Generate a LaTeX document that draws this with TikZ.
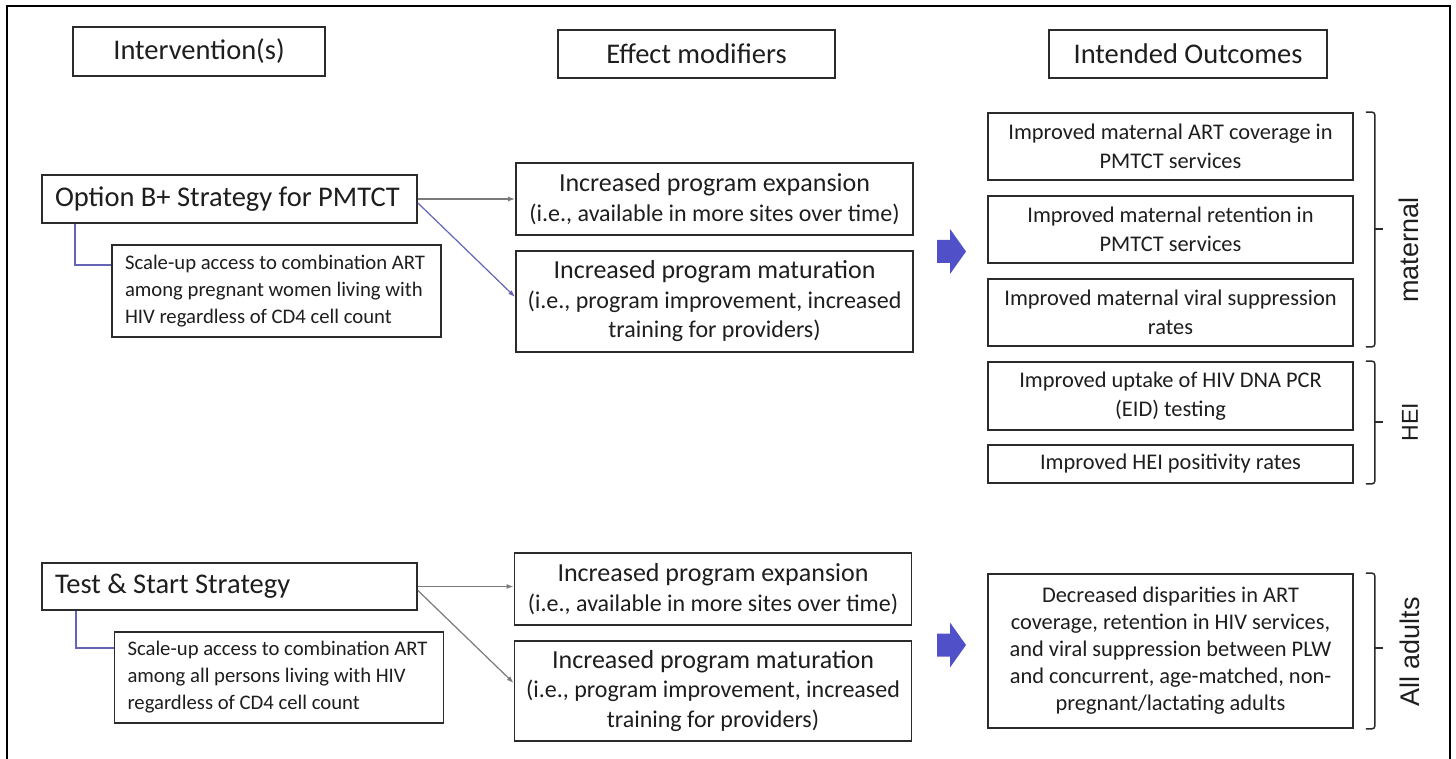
\documentclass[tikz,border=0pt]{standalone}
\usepackage{fontspec}
\setmainfont{Carlito}
\newfontfamily\arialf{Liberation Sans}
\usetikzlibrary{arrows.meta}
\definecolor{boxline}{HTML}{2B2B2B}
\definecolor{txt}{HTML}{1E1E1E}
\definecolor{linkgray}{HTML}{7A7A7A}
\definecolor{linkblue}{HTML}{6464B4}
\definecolor{arrowblue}{RGB}{80,80,200}
\newcommand\effmain{\fontsize{26}{29.5}\selectfont}
\begin{document}
\begin{tikzpicture}[x=1pt,y=-1pt,
  box/.style={draw=boxline, line width=1.8pt, fill=white, inner sep=0pt, text=txt, align=center},
  headbox/.style={box, font=\fontsize{28.5}{34}\selectfont},
  stratbox/.style={box, align=flush left, inner xsep=13pt, text width=349pt, minimum height=48pt, font=\fontsize{28.5}{34}\selectfont},
  scalebox/.style={box, align=flush left, inner xsep=13pt, text width=303pt, font=\fontsize{20.7}{27}\selectfont},
  effbox/.style={box, minimum width=397pt, font=\fontsize{24}{29.5}\selectfont},
  outbox/.style={box, minimum width=365pt, font=\fontsize{22.4}{29.5}\selectfont},
  garrow/.style={draw=linkgray, line width=1.2pt, -{Latex[length=7pt,width=5pt]}},
  barrow/.style={draw=linkblue, line width=1.2pt, -{Latex[length=7pt,width=5pt]}},
  elbow/.style={draw=linkblue, line width=1.3pt},
  brk/.style={draw=boxline, line width=1.5pt, rounded corners=3pt},
  side/.style={text=txt, font=\arialf\fontsize{27}{30}\selectfont, inner sep=0pt}
]
\useasboundingbox (0,0) rectangle (1456,759);
\draw[line width=1.5pt, draw=black] (7,759) -- (7,6) -- (1450,6) -- (1450,759);

% headers
\node[headbox, minimum width=252pt, minimum height=49pt] (hint) at (199,51.5) {Intervention(s)};
\node[headbox, minimum width=277pt, minimum height=48pt] (heff) at (696.5,54) {Effect modifiers};
\node[headbox, minimum width=278pt, minimum height=48pt] (hout) at (1188,54) {Intended Outcomes};

% upper strategy
\node[stratbox] (optb) at (229.5,199) {\mbox{Option B+ Strategy for PMTCT}};
\node[scalebox, minimum height=92pt] (scale1) at (276.5,291)
  {\mbox{Scale-up access to combination ART}\\\mbox{among pregnant women living with}\\\mbox{HIV regardless of CD4 cell count}};
\node[effbox, minimum height=72pt] (eff1) at (714.5,199)
  {{\effmain Increased program expansion}\\(i.e., available in more sites over time)};
\node[effbox, minimum height=101pt] (eff2) at (714.5,301.5)
  {{\effmain Increased program maturation}\\(i.e., program improvement, increased\\training for providers)};

% upper outcomes
\node[outbox, minimum height=67pt] (o1) at (1170.5,146.5) {Improved maternal ART coverage in\\PMTCT services};
\node[outbox, minimum height=67pt] (o2) at (1170.5,229.5) {Improved maternal retention in\\PMTCT services};
\node[outbox, minimum height=67pt] (o3) at (1170.5,312.5) {Improved maternal viral suppression\\rates};
\node[outbox, minimum height=68pt] (o4) at (1170.5,396) {Improved uptake of HIV DNA PCR\\(EID) testing};
\node[outbox, minimum height=38pt] (o5) at (1170.5,464) {Improved HEI positivity rates};

% lower strategy
\node[stratbox, minimum height=47pt] (ts) at (229.5,586.5) {\mbox{Test \& Start Strategy}};
\node[scalebox, minimum height=91pt] (scale2) at (279,677.5)
  {\mbox{Scale-up access to combination ART}\\\mbox{among all persons living with HIV}\\\mbox{regardless of CD4 cell count}};
\node[effbox, minimum height=72pt] (eff3) at (713,589)
  {{\effmain Increased program expansion}\\(i.e., available in more sites over time)};
\node[effbox, minimum height=100pt] (eff4) at (713,691)
  {{\effmain Increased program maturation}\\(i.e., program improvement, increased\\training for providers)};
\node[outbox, minimum height=154pt, font=\fontsize{22.4}{27}\selectfont] (o6) at (1170.5,651)
  {Decreased disparities in ART\\coverage, retention in HIV services,\\and viral suppression between PLW\\and concurrent, age-matched, non-\\pregnant/lactating adults};

% connectors upper
\draw[elbow] ([xshift=34pt]optb.south west) |- ([yshift=-21pt]scale1.north west);
\draw[garrow] (optb.east) -- (eff1.west);
\draw[barrow] ([yshift=-4pt]optb.east) -- ([yshift=4.5pt]eff2.west);
% connectors lower
\draw[elbow] ([xshift=35pt]ts.south west) |- ([yshift=-17pt]scale2.north west);
\draw[garrow] (ts.east) -- (ts.east -| eff3.west);
\draw[garrow] ([yshift=-4pt]ts.east) -- ([yshift=8pt]eff4.west);

% block arrows
\fill[arrowblue] (937,240) -- (950,240) -- (950,229) -- (966,251.5) -- (950,274) -- (950,263) -- (937,263) -- cycle;
\fill[arrowblue] (937,633.5) -- (950,633.5) -- (950,622.5) -- (966,645) -- (950,667.5) -- (950,656.5) -- (937,656.5) -- cycle;

% brackets
\draw[brk] ([xshift=12pt]o1.north east) -- ([xshift=21pt]o1.north east) -- ([xshift=21pt]o3.south east) -- ([xshift=12pt]o3.south east);
\draw[line width=1.5pt, draw=boxline] (1374,229) -- (1383,229);
\draw[brk] ([xshift=12pt]o4.north east) -- ([xshift=21pt]o4.north east) -- ([xshift=21pt]o5.south east) -- ([xshift=12pt]o5.south east);
\draw[line width=1.5pt, draw=boxline] (1374,422) -- (1383,422);
\draw[brk] ([xshift=12pt]o6.north east) -- ([xshift=21pt]o6.north east) -- ([xshift=21pt]o6.south east) -- ([xshift=12pt]o6.south east);
\draw[line width=1.5pt, draw=boxline] (1374,648) -- (1383,648);

\node[side, rotate=90] (lmat) at (1409,250) {maternal};
\node[side, rotate=90, font=\arialf\fontsize{23}{26}\selectfont] (lhei) at (1410,422) {HEI};
\node[side, rotate=90] (lall) at (1410,652) {All adults};
\end{tikzpicture}
\end{document}
